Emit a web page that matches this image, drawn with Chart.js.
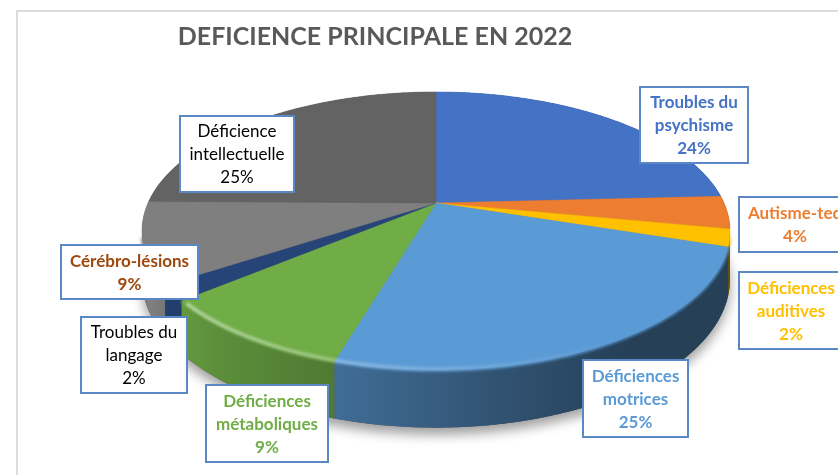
<!DOCTYPE html>
<html lang="fr">
<head>
<meta charset="utf-8">
<title>Déficience principale en 2022</title>
<script src="https://cdn.jsdelivr.net/npm/chart.js@4"></script>
<style>
    html, body { margin: 0; padding: 0; background: #fff; overflow: hidden; }
    #wrap { position: relative; width: 838px; height: 475px; overflow: hidden; }
    #frame { position: absolute; left: 16px; top: 10px; width: 900px; height: 600px; border: 2px solid #dcdcdc; }
    #chart { position: absolute; left: 0; top: 0; }
</style>
</head>
<body>
<div id="wrap">
    <div id="frame"></div>
    <canvas id="chart" width="838" height="475"></canvas>
</div>
<script>
// Chart data
const chartTitle = "DEFICIENCE PRINCIPALE EN 2022";
const categories = [
    "Troubles du\npsychisme",
    "Autisme-ted",
    "Déficiences\nauditives",
    "Déficiences\nmotrices",
    "Déficiences\nmétaboliques",
    "Troubles du\nlangage",
    "Cérébro-lésions",
    "Déficience\nintellectuelle"
];
const values = [24.2, 3.8, 2, 24.6, 9.4, 1.8, 9.4, 24.8];
const sliceColors = ["#4472c4", "#ed7d31", "#ffc000", "#5b9bd5", "#70ad47", "#264478", "#7f7f7f", "#636363"];
const labelColors = ["#4472c4", "#ed7d31", "#ffc000", "#5b9bd5", "#70ad47", "#000000", "#9e480e", "#000000"];

// Where the label boxes sit: x, y, width, height
const labelBoxes = [
    [640, 87, 108, 76],
    [739, 197, 112, 55],
    [739, 272, 104, 77],
    [583, 360, 105, 77],
    [206, 385, 122, 77],
    [81, 317, 106, 76],
    [61, 245, 137, 54],
    [180, 116, 114, 76]
];

// Perspective of the tilted pie
const view = { cx: 436, cy: 203, rx: 288, ry: 133.4, tilt: 0.2014, depth: 46 };

// Project a point of the unit disc on the screen, lifted down by "drop" for the bottom rim
function project(X, Y, drop) {
    const k = 1 - view.tilt * Y;
    return [view.cx + view.rx * X / k, view.cy + (view.ry * Y + drop) / k];
}

function rimPath(ctx, a1, a2, drop, first) {
    const steps = Math.max(2, Math.ceil(Math.abs(a2 - a1) / 0.01));
    for (let i = 0; i <= steps; i++) {
        const a = a1 + (a2 - a1) * i / steps;
        const p = project(Math.cos(a), Math.sin(a), drop);
        if (i === 0 && first) ctx.moveTo(p[0], p[1]);
        else ctx.lineTo(p[0], p[1]);
    }
}

// Side wall gets darker from left to right
function sideFactor(x) {
    if (x <= 150) return 1;
    if (x <= 190) return 1 - 0.15 * (x - 150) / 40;
    if (x >= 620) return 0.41;
    return 0.85 - 0.44 * (x - 190) / 430;
}

function shade(hex, f) {
    const n = parseInt(hex.slice(1), 16);
    const r = Math.round((n >> 16 & 255) * f);
    const g = Math.round((n >> 8 & 255) * f);
    const b = Math.round((n & 255) * f);
    return `rgb(${r},${g},${b})`;
}

const pie3d = {
    id: "pie3d",
    // Replace the flat arcs by the projected ones, angles still come from the controller
    beforeDatasetDraw(chart, args) {
        const ctx = chart.ctx;
        const arcs = args.meta.data;

        // Ground shadow
        ctx.save();
        ctx.shadowColor = "rgba(0,0,0,0.38)";
        ctx.shadowBlur = 12;
        ctx.shadowOffsetY = 7;
        ctx.fillStyle = "#555";
        ctx.beginPath();
        rimPath(ctx, 0, Math.PI * 2, view.depth, true);
        ctx.closePath();
        ctx.fill();
        ctx.restore();

        // Side walls
        arcs.forEach((arc, i) => {
            const a1 = arc.startAngle, a2 = arc.endAngle;
            const p1 = project(Math.cos(a2), Math.sin(a2), 0);
            const p2 = project(Math.cos(a1), Math.sin(a1), 0);
            const left = Math.min(p1[0], p2[0]), right = Math.max(p1[0], p2[0]) + 1;
            const grad = ctx.createLinearGradient(left, 0, right, 0);
            for (let s = 0; s <= 4; s++) {
                grad.addColorStop(s / 4, shade(sliceColors[i], sideFactor(left + (right - left) * s / 4)));
            }
            ctx.fillStyle = grad;
            ctx.beginPath();
            rimPath(ctx, a1, a2, 0, true);
            rimPath(ctx, a2, a1, view.depth, false);
            ctx.closePath();
            ctx.fill();
        });

        // Soft edge between the wall and the top face, front part only
        ctx.save();
        ctx.filter = "blur(1.5px)";
        ctx.lineWidth = 3;
        arcs.forEach((arc, i) => {
            const a1 = Math.max(arc.startAngle, 0.25);
            const a2 = Math.min(arc.endAngle, Math.PI - 0.25);
            if (a2 <= a1) return;
            ctx.strokeStyle = sliceColors[i];
            ctx.beginPath();
            rimPath(ctx, a1, a2, 0, true);
            ctx.stroke();
        });
        ctx.restore();

        // Top faces
        arcs.forEach((arc, i) => {
            ctx.fillStyle = sliceColors[i];
            ctx.strokeStyle = sliceColors[i];
            ctx.lineWidth = 0.5;
            ctx.beginPath();
            ctx.moveTo(view.cx, view.cy);
            rimPath(ctx, arc.startAngle, arc.endAngle, 0, false);
            ctx.closePath();
            ctx.fill();
            ctx.stroke();
        });

        // Bevel highlight along the front rim
        const shine = ctx.createLinearGradient(170, 0, 620, 0);
        shine.addColorStop(0, "rgba(255,255,255,0.45)");
        shine.addColorStop(0.45, "rgba(255,255,255,0.22)");
        shine.addColorStop(1, "rgba(255,255,255,0)");
        ctx.save();
        ctx.filter = "blur(1.2px)";
        ctx.strokeStyle = shine;
        ctx.lineWidth = 4;
        ctx.beginPath();
        rimPath(ctx, 0.75, 2.42, -1, true);
        ctx.stroke();
        ctx.restore();
        return false;
    },
    // Label boxes on top of everything
    afterDraw(chart) {
        const ctx = chart.ctx;
        ctx.save();
        ctx.textAlign = "center";
        ctx.textBaseline = "middle";
        categories.forEach((name, i) => {
            const [x, y, w, h] = labelBoxes[i];
            ctx.fillStyle = "#fff";
            ctx.strokeStyle = "#5b87c5";
            ctx.lineWidth = 2;
            ctx.fillRect(x, y, w, h);
            ctx.strokeRect(x, y, w, h);

            const isDark = labelColors[i] === "#000000";
            const lines = name.split("\n").concat(Math.round(values[i]) + "%");
            ctx.font = (isDark ? "" : "bold ") + "17px Lato";
            ctx.fillStyle = labelColors[i];
            const top = y + h / 2 - (lines.length - 1) * 11.5 + 1;
            lines.forEach((line, l) => ctx.fillText(line, x + w / 2, top + l * 23));
        });
        ctx.restore();
    }
};

new Chart(document.getElementById("chart"), {
    type: "pie",
    data: {
        labels: categories,
        datasets: [{ data: values, backgroundColor: sliceColors, borderWidth: 0 }]
    },
    options: {
        responsive: false,
        animation: false,
        layout: { padding: { right: 88, top: 22 } },
        plugins: {
            legend: { display: false },
            tooltip: { enabled: false },
            title: {
                display: true,
                text: chartTitle,
                color: "#595959",
                font: { family: "Lato", size: 25, weight: "bold" },
                padding: 0
            }
        }
    },
    plugins: [pie3d]
});
</script>
</body>
</html>
